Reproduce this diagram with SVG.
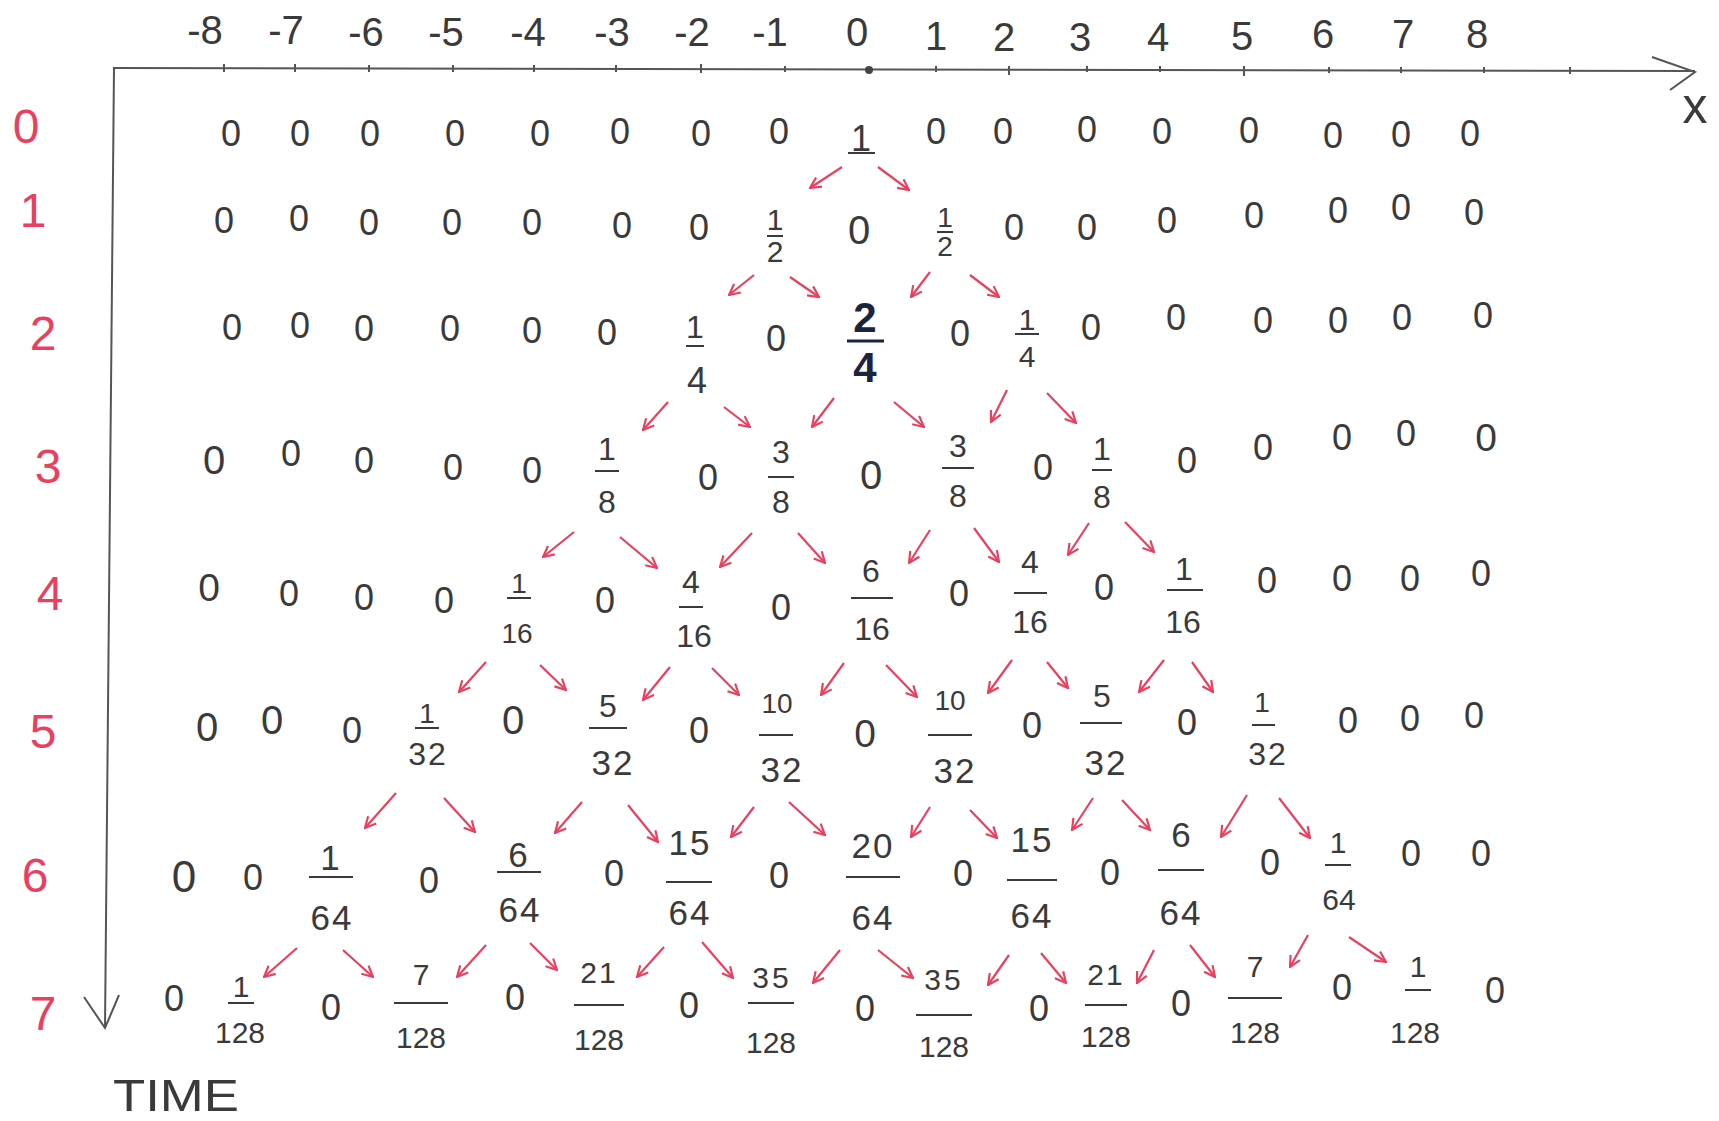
<svg xmlns="http://www.w3.org/2000/svg" width="1719" height="1121" viewBox="0 0 1719 1121">
<defs>
<style>
text{font-family:"Liberation Sans",Arial,sans-serif;text-anchor:middle;fill:#3a3a3a}
.z{font-size:36px}
.f{font-size:32px}
.f6{font-size:35px;letter-spacing:2px}
.f7{font-size:30px}
.bar{stroke:#3a3a3a;stroke-width:2}
.lab{font-size:48px;fill:#e8415f}
.ax{font-size:40px}
.axis{stroke:#555;stroke-width:2;fill:none}
.tick{stroke:#555;stroke-width:2}
.arr{stroke:#e8415f;stroke-width:2.2;fill:none;marker-end:url(#ah)}
.dk{fill:#1c2340;font-weight:bold;font-size:42px}
</style>
<marker id="ah" viewBox="0 0 12 12" refX="11" refY="6" markerWidth="13" markerHeight="13" markerUnits="userSpaceOnUse" orient="auto">
<path d="M1,1 L11,6 L1,11" fill="none" stroke="#e8415f" stroke-width="2"/>
</marker>
</defs>
<rect width="1719" height="1121" fill="#ffffff"/>

<g id="axes">
<path class="axis" d="M113,68 L1695,71"/>
<path class="axis" d="M1652,57 L1695,72 L1670,90"/>
<path class="axis" d="M114,68 L105,1028"/>
<path class="axis" d="M84,997 L105,1028 L119,995"/>
<g>
<line class="tick" x1="224" y1="64" x2="224" y2="72"/><line class="tick" x1="295" y1="64" x2="295" y2="72"/><line class="tick" x1="369" y1="65" x2="369" y2="72"/><line class="tick" x1="453" y1="65" x2="453" y2="72"/><line class="tick" x1="534" y1="65" x2="534" y2="72"/><line class="tick" x1="616" y1="65" x2="616" y2="72"/><line class="tick" x1="701" y1="64" x2="701" y2="73"/><line class="tick" x1="785" y1="66" x2="785" y2="72"/><circle cx="869" cy="70" r="4" fill="#444"/><line class="tick" x1="936" y1="66" x2="936" y2="72"/><line class="tick" x1="1009" y1="66" x2="1009" y2="75"/><line class="tick" x1="1087" y1="66" x2="1087" y2="72"/><line class="tick" x1="1160" y1="66" x2="1160" y2="72"/><line class="tick" x1="1244" y1="66" x2="1244" y2="76"/><line class="tick" x1="1329" y1="67" x2="1329" y2="73"/><line class="tick" x1="1401" y1="67" x2="1401" y2="73"/><line class="tick" x1="1484" y1="67" x2="1484" y2="73"/><line class="tick" x1="1570" y1="67" x2="1570" y2="74"/>
</g>
<text class="ax" x="205" y="44">-8</text><text class="ax" x="286" y="44">-7</text><text class="ax" x="366" y="46">-6</text><text class="ax" x="446" y="46">-5</text><text class="ax" x="528" y="46">-4</text><text class="ax" x="612" y="46">-3</text><text class="ax" x="692" y="46">-2</text><text class="ax" x="770" y="46">-1</text><text class="ax" x="857" y="46">0</text><text class="ax" x="936" y="50">1</text><text class="ax" x="1004" y="51">2</text><text class="ax" x="1080" y="51">3</text><text class="ax" x="1158" y="51">4</text><text class="ax" x="1242" y="50">5</text><text class="ax" x="1323" y="48">6</text><text class="ax" x="1403" y="48">7</text><text class="ax" x="1477" y="48">8</text>
<text x="1695" y="123" style="font-size:50px">x</text>
<text x="176" y="1111" style="font-size:44px" textLength="126" lengthAdjust="spacingAndGlyphs">TIME</text>
</g>

<g id="row-labels">
<text class="lab" x="26" y="143">0</text>
<text class="lab" x="33" y="227">1</text>
<text class="lab" x="43" y="350">2</text>
<text class="lab" x="48" y="483">3</text>
<text class="lab" x="50" y="610">4</text>
<text class="lab" x="43" y="748">5</text>
<text class="lab" x="35" y="892">6</text>
<text class="lab" x="43" y="1030">7</text>
</g>

<g id="row0">
<g id="r0_m8"><text class="z" x="231" y="146">0</text></g>
<g id="r0_m7"><text class="z" x="300" y="146">0</text></g>
<g id="r0_m6"><text class="z" x="370" y="146">0</text></g>
<g id="r0_m5"><text class="z" x="455" y="146">0</text></g>
<g id="r0_m4"><text class="z" x="540" y="146">0</text></g>
<g id="r0_m3"><text class="z" x="620" y="144">0</text></g>
<g id="r0_m2"><text class="z" x="701" y="146">0</text></g>
<g id="r0_m1"><text class="z" x="779" y="144">0</text></g>
<g id="r0_0"><text x="861" y="151" style="font-size:36px">1</text><line class="bar" x1="848" y1="153" x2="875" y2="153"/></g>
<g id="r0_p1"><text class="z" x="936" y="144">0</text></g>
<g id="r0_p2"><text class="z" x="1003" y="144">0</text></g>
<g id="r0_p3"><text class="z" x="1087" y="142">0</text></g>
<g id="r0_p4"><text class="z" x="1162" y="144">0</text></g>
<g id="r0_p5"><text class="z" x="1249" y="143">0</text></g>
<g id="r0_p6"><text class="z" x="1333" y="148">0</text></g>
<g id="r0_p7"><text class="z" x="1401" y="147">0</text></g>
<g id="r0_p8"><text class="z" x="1470" y="146">0</text></g>
</g>

<g id="row1">
<g id="r1_m8"><text class="z" x="224" y="233">0</text></g>
<g id="r1_m7"><text class="z" x="299" y="231">0</text></g>
<g id="r1_m6"><text class="z" x="369" y="235">0</text></g>
<g id="r1_m5"><text class="z" x="452" y="235">0</text></g>
<g id="r1_m4"><text class="z" x="532" y="235">0</text></g>
<g id="r1_m3"><text class="z" x="622" y="238">0</text></g>
<g id="r1_m2"><text class="z" x="699" y="240">0</text></g>
<g id="r1_m1"><text class="f" x="775" y="230" style="font-size:30px">1</text><line class="bar" x1="767" y1="236" x2="783" y2="236"/><text class="f" x="775" y="262" style="font-size:30px">2</text></g>
<g id="r1_0"><text class="z" x="859" y="244" style="font-size:40px">0</text></g>
<g id="r1_p1"><text class="f" x="945" y="227" style="font-size:28px">1</text><line class="bar" x1="937" y1="232" x2="953" y2="232"/><text class="f" x="945" y="256" style="font-size:28px">2</text></g>
<g id="r1_p2"><text class="z" x="1014" y="240">0</text></g>
<g id="r1_p3"><text class="z" x="1087" y="240">0</text></g>
<g id="r1_p4"><text class="z" x="1167" y="233">0</text></g>
<g id="r1_p5"><text class="z" x="1254" y="228">0</text></g>
<g id="r1_p6"><text class="z" x="1338" y="223">0</text></g>
<g id="r1_p7"><text class="z" x="1401" y="220">0</text></g>
<g id="r1_p8"><text class="z" x="1474" y="225">0</text></g>
</g>

<g id="row2">
<g id="r2_m8"><text class="z" x="232" y="340">0</text></g>
<g id="r2_m7"><text class="z" x="300" y="338">0</text></g>
<g id="r2_m6"><text class="z" x="364" y="341">0</text></g>
<g id="r2_m5"><text class="z" x="450" y="341">0</text></g>
<g id="r2_m4"><text class="z" x="532" y="343">0</text></g>
<g id="r2_m3"><text class="z" x="607" y="345">0</text></g>
<g id="r2_m2"><text class="f" x="695" y="338" style="font-size:32px">1</text><line class="bar" x1="686" y1="346" x2="704" y2="346"/><text class="f" x="697" y="393" style="font-size:36px">4</text></g>
<g id="r2_m1"><text class="z" x="776" y="351">0</text></g>
<g id="r2_0"><text class="dk" x="865" y="332">2</text><line class="bar" x1="847" y1="341" x2="884" y2="341" style="stroke:#1c2340;stroke-width:3"/><text class="dk" x="865" y="382">4</text></g>
<g id="r2_p1"><text class="z" x="960" y="346">0</text></g>
<g id="r2_p2"><text class="f" x="1027" y="330" style="font-size:30px">1</text><line class="bar" x1="1015" y1="334" x2="1039" y2="334"/><text class="f" x="1027" y="367" style="font-size:30px">4</text></g>
<g id="r2_p3"><text class="z" x="1091" y="340">0</text></g>
<g id="r2_p4"><text class="z" x="1176" y="330">0</text></g>
<g id="r2_p5"><text class="z" x="1263" y="333">0</text></g>
<g id="r2_p6"><text class="z" x="1338" y="333">0</text></g>
<g id="r2_p7"><text class="z" x="1402" y="330">0</text></g>
<g id="r2_p8"><text class="z" x="1483" y="328">0</text></g>
</g>

<g id="row3">
<g id="r3_m8"><text class="z" x="214" y="474" style="font-size:40px">0</text></g>
<g id="r3_m7"><text class="z" x="291" y="466">0</text></g>
<g id="r3_m6"><text class="z" x="364" y="473">0</text></g>
<g id="r3_m5"><text class="z" x="453" y="480">0</text></g>
<g id="r3_m4"><text class="z" x="532" y="483">0</text></g>
<g id="r3_m3"><text class="f" x="607" y="460">1</text><line class="bar" x1="595" y1="471" x2="619" y2="471"/><text class="f" x="607" y="513">8</text></g>
<g id="r3_m2"><text class="z" x="708" y="490">0</text></g>
<g id="r3_m1"><text class="f" x="781" y="463">3</text><line class="bar" x1="768" y1="477" x2="794" y2="477"/><text class="f" x="781" y="513">8</text></g>
<g id="r3_0"><text class="z" x="871" y="489" style="font-size:40px">0</text></g>
<g id="r3_p1"><text class="f" x="958" y="457">3</text><line class="bar" x1="942" y1="468" x2="974" y2="468"/><text class="f" x="958" y="507">8</text></g>
<g id="r3_p2"><text class="z" x="1043" y="480">0</text></g>
<g id="r3_p3"><text class="f" x="1102" y="460">1</text><line class="bar" x1="1092" y1="470" x2="1112" y2="470"/><text class="f" x="1102" y="508">8</text></g>
<g id="r3_p4"><text class="z" x="1187" y="473">0</text></g>
<g id="r3_p5"><text class="z" x="1263" y="460">0</text></g>
<g id="r3_p6"><text class="z" x="1342" y="450">0</text></g>
<g id="r3_p7"><text class="z" x="1406" y="446">0</text></g>
<g id="r3_p8"><text class="z" x="1486" y="451" style="font-size:39px">0</text></g>
</g>

<g id="row4">
<g id="r4_m8"><text class="z" x="209" y="601" style="font-size:39px">0</text></g>
<g id="r4_m7"><text class="z" x="289" y="606">0</text></g>
<g id="r4_m6"><text class="z" x="364" y="610">0</text></g>
<g id="r4_m5"><text class="z" x="444" y="613">0</text></g>
<g id="r4_m4"><text class="f" x="519" y="593" style="font-size:28px">1</text><line class="bar" x1="507" y1="598" x2="531" y2="598"/><text class="f" x="517" y="643" style="font-size:28px">16</text></g>
<g id="r4_m3"><text class="z" x="605" y="613">0</text></g>
<g id="r4_m2"><text class="f" x="691" y="593">4</text><line class="bar" x1="679" y1="607" x2="703" y2="607"/><text class="f" x="694" y="647">16</text></g>
<g id="r4_m1"><text class="z" x="781" y="620">0</text></g>
<g id="r4_0"><text class="f" x="871" y="582">6</text><line class="bar" x1="851" y1="598" x2="893" y2="598"/><text class="f" x="872" y="640">16</text></g>
<g id="r4_p1"><text class="z" x="959" y="606">0</text></g>
<g id="r4_p2"><text class="f" x="1030" y="573">4</text><line class="bar" x1="1014" y1="593" x2="1047" y2="593"/><text class="f" x="1030" y="633">16</text></g>
<g id="r4_p3"><text class="z" x="1104" y="600">0</text></g>
<g id="r4_p4"><text class="f" x="1184" y="580">1</text><line class="bar" x1="1167" y1="590" x2="1203" y2="590"/><text class="f" x="1183" y="633">16</text></g>
<g id="r4_p5"><text class="z" x="1267" y="593">0</text></g>
<g id="r4_p6"><text class="z" x="1342" y="591">0</text></g>
<g id="r4_p7"><text class="z" x="1410" y="591">0</text></g>
<g id="r4_p8"><text class="z" x="1481" y="586">0</text></g>
</g>

<g id="row5">
<g id="r5_m8"><text class="z" x="207" y="741" style="font-size:40px">0</text></g>
<g id="r5_m7"><text class="z" x="272" y="734" style="font-size:40px">0</text></g>
<g id="r5_m6"><text class="z" x="352" y="743">0</text></g>
<g id="r5_m5"><text class="f" x="427" y="723" style="font-size:28px">1</text><line class="bar" x1="415" y1="728" x2="439" y2="728"/><text class="f6" x="428" y="765" style="font-size:32px">32</text></g>
<g id="r5_m4"><text class="z" x="513" y="734" style="font-size:40px">0</text></g>
<g id="r5_m3"><text class="f" x="608" y="717">5</text><line class="bar" x1="589" y1="728" x2="627" y2="728"/><text class="f6" x="613" y="775">32</text></g>
<g id="r5_m2"><text class="z" x="699" y="743">0</text></g>
<g id="r5_m1"><text class="f" x="777" y="713" style="font-size:28px">10</text><line class="bar" x1="759" y1="735" x2="793" y2="735"/><text class="f6" x="782" y="782">32</text></g>
<g id="r5_0"><text class="z" x="865" y="747" style="font-size:39px">0</text></g>
<g id="r5_p1"><text class="f" x="950" y="710" style="font-size:28px">10</text><line class="bar" x1="928" y1="735" x2="972" y2="735"/><text class="f6" x="955" y="783">32</text></g>
<g id="r5_p2"><text class="z" x="1032" y="738">0</text></g>
<g id="r5_p3"><text class="f" x="1102" y="707">5</text><line class="bar" x1="1080" y1="723" x2="1122" y2="723"/><text class="f6" x="1106" y="775">32</text></g>
<g id="r5_p4"><text class="z" x="1187" y="735">0</text></g>
<g id="r5_p5"><text class="f" x="1262" y="712" style="font-size:28px">1</text><line class="bar" x1="1252" y1="725" x2="1275" y2="725"/><text class="f6" x="1268" y="765" style="font-size:32px">32</text></g>
<g id="r5_p6"><text class="z" x="1348" y="733">0</text></g>
<g id="r5_p7"><text class="z" x="1410" y="731">0</text></g>
<g id="r5_p8"><text class="z" x="1474" y="728">0</text></g>
</g>

<g id="row6">
<g id="r6_m8"><text class="z" x="184" y="892" style="font-size:44px">0</text></g>
<g id="r6_m7"><text class="z" x="253" y="890">0</text></g>
<g id="r6_m6"><text class="f6" x="331" y="870">1</text><line class="bar" x1="309" y1="877" x2="353" y2="877"/><text class="f6" x="332" y="930">64</text></g>
<g id="r6_m5"><text class="z" x="429" y="893">0</text></g>
<g id="r6_m4"><text class="f6" x="519" y="867">6</text><line class="bar" x1="497" y1="872" x2="541" y2="872"/><text class="f6" x="520" y="922">64</text></g>
<g id="r6_m3"><text class="z" x="614" y="886">0</text></g>
<g id="r6_m2"><text class="f6" x="690" y="855">15</text><line class="bar" x1="666" y1="882" x2="712" y2="882"/><text class="f6" x="690" y="925">64</text></g>
<g id="r6_m1"><text class="z" x="779" y="888">0</text></g>
<g id="r6_0"><text class="f6" x="873" y="858">20</text><line class="bar" x1="846" y1="877" x2="900" y2="877"/><text class="f6" x="873" y="930">64</text></g>
<g id="r6_p1"><text class="z" x="963" y="886">0</text></g>
<g id="r6_p2"><text class="f6" x="1032" y="852">15</text><line class="bar" x1="1007" y1="880" x2="1057" y2="880"/><text class="f6" x="1032" y="928">64</text></g>
<g id="r6_p3"><text class="z" x="1110" y="885">0</text></g>
<g id="r6_p4"><text class="f6" x="1182" y="847">6</text><line class="bar" x1="1158" y1="870" x2="1204" y2="870"/><text class="f6" x="1181" y="925">64</text></g>
<g id="r6_p5"><text class="z" x="1270" y="875">0</text></g>
<g id="r6_p6"><text class="f" x="1338" y="853" style="font-size:30px">1</text><line class="bar" x1="1325" y1="865" x2="1351" y2="865"/><text class="f" x="1339" y="910" style="font-size:30px">64</text></g>
<g id="r6_p7"><text class="z" x="1411" y="866">0</text></g>
<g id="r6_p8"><text class="z" x="1481" y="866">0</text></g>
</g>

<g id="row7">
<g id="r7_m8"><text class="z" x="174" y="1011">0</text></g>
<g id="r7_m7"><text class="f7" x="241" y="997">1</text><line class="bar" x1="228" y1="1003" x2="254" y2="1003"/><text class="f7" x="240" y="1043">128</text></g>
<g id="r7_m6"><text class="z" x="331" y="1020">0</text></g>
<g id="r7_m5"><text class="f7" x="421" y="985">7</text><line class="bar" x1="394" y1="1003" x2="448" y2="1003"/><text class="f7" x="421" y="1048">128</text></g>
<g id="r7_m4"><text class="z" x="515" y="1010">0</text></g>
<g id="r7_m3"><text class="f7" x="599" y="983" style="letter-spacing:2px">21</text><line class="bar" x1="574" y1="1005" x2="624" y2="1005"/><text class="f7" x="599" y="1050">128</text></g>
<g id="r7_m2"><text class="z" x="689" y="1018">0</text></g>
<g id="r7_m1"><text class="f7" x="772" y="988" style="letter-spacing:3px">35</text><line class="bar" x1="748" y1="1003" x2="794" y2="1003"/><text class="f7" x="771" y="1053">128</text></g>
<g id="r7_0"><text class="z" x="865" y="1021">0</text></g>
<g id="r7_p1"><text class="f7" x="944" y="990" style="letter-spacing:3px">35</text><line class="bar" x1="916" y1="1015" x2="972" y2="1015"/><text class="f7" x="944" y="1057">128</text></g>
<g id="r7_p2"><text class="z" x="1039" y="1021">0</text></g>
<g id="r7_p3"><text class="f7" x="1106" y="985" style="letter-spacing:2px">21</text><line class="bar" x1="1085" y1="1005" x2="1127" y2="1005"/><text class="f7" x="1106" y="1047">128</text></g>
<g id="r7_p4"><text class="z" x="1181" y="1016">0</text></g>
<g id="r7_p5"><text class="f7" x="1255" y="977">7</text><line class="bar" x1="1228" y1="998" x2="1282" y2="998"/><text class="f7" x="1255" y="1043">128</text></g>
<g id="r7_p6"><text class="z" x="1342" y="1000">0</text></g>
<g id="r7_p7"><text class="f7" x="1418" y="977">1</text><line class="bar" x1="1405" y1="990" x2="1431" y2="990"/><text class="f7" x="1415" y="1043">128</text></g>
<g id="r7_p8"><text class="z" x="1495" y="1003">0</text></g>
</g>

<g id="connectors">
<line class="arr" x1="842" y1="167" x2="810" y2="188"/>
<line class="arr" x1="878" y1="167" x2="909" y2="190"/>
<line class="arr" x1="754" y1="275" x2="729" y2="295"/>
<line class="arr" x1="790" y1="277" x2="819" y2="297"/>
<line class="arr" x1="930" y1="272" x2="911" y2="297"/>
<line class="arr" x1="970" y1="275" x2="999" y2="297"/>
<line class="arr" x1="668" y1="402" x2="643" y2="430"/>
<line class="arr" x1="724" y1="407" x2="750" y2="427"/>
<line class="arr" x1="834" y1="398" x2="812" y2="427"/>
<line class="arr" x1="894" y1="402" x2="924" y2="427"/>
<line class="arr" x1="1007" y1="390" x2="991" y2="422"/>
<line class="arr" x1="1047" y1="393" x2="1076" y2="423"/>
<line class="arr" x1="574" y1="532" x2="543" y2="557"/>
<line class="arr" x1="620" y1="537" x2="657" y2="568"/>
<line class="arr" x1="752" y1="533" x2="720" y2="567"/>
<line class="arr" x1="798" y1="533" x2="825" y2="563"/>
<line class="arr" x1="930" y1="530" x2="909" y2="563"/>
<line class="arr" x1="974" y1="528" x2="999" y2="562"/>
<line class="arr" x1="1089" y1="523" x2="1068" y2="555"/>
<line class="arr" x1="1125" y1="522" x2="1154" y2="552"/>
<line class="arr" x1="486" y1="662" x2="459" y2="692"/>
<line class="arr" x1="540" y1="665" x2="566" y2="690"/>
<line class="arr" x1="670" y1="667" x2="643" y2="700"/>
<line class="arr" x1="712" y1="668" x2="739" y2="695"/>
<line class="arr" x1="844" y1="663" x2="821" y2="695"/>
<line class="arr" x1="886" y1="665" x2="917" y2="697"/>
<line class="arr" x1="1012" y1="660" x2="988" y2="693"/>
<line class="arr" x1="1047" y1="662" x2="1068" y2="688"/>
<line class="arr" x1="1164" y1="660" x2="1139" y2="692"/>
<line class="arr" x1="1192" y1="662" x2="1213" y2="692"/>
<line class="arr" x1="396" y1="793" x2="365" y2="828"/>
<line class="arr" x1="444" y1="798" x2="475" y2="832"/>
<line class="arr" x1="582" y1="802" x2="555" y2="833"/>
<line class="arr" x1="628" y1="805" x2="658" y2="842"/>
<line class="arr" x1="754" y1="807" x2="731" y2="837"/>
<line class="arr" x1="789" y1="802" x2="825" y2="835"/>
<line class="arr" x1="930" y1="807" x2="911" y2="837"/>
<line class="arr" x1="970" y1="810" x2="997" y2="838"/>
<line class="arr" x1="1093" y1="798" x2="1072" y2="830"/>
<line class="arr" x1="1122" y1="800" x2="1150" y2="830"/>
<line class="arr" x1="1247" y1="795" x2="1221" y2="837"/>
<line class="arr" x1="1279" y1="798" x2="1310" y2="838"/>
<line class="arr" x1="297" y1="948" x2="264" y2="977"/>
<line class="arr" x1="343" y1="950" x2="373" y2="977"/>
<line class="arr" x1="486" y1="945" x2="457" y2="977"/>
<line class="arr" x1="530" y1="943" x2="557" y2="970"/>
<line class="arr" x1="664" y1="947" x2="637" y2="977"/>
<line class="arr" x1="702" y1="942" x2="733" y2="978"/>
<line class="arr" x1="840" y1="950" x2="813" y2="983"/>
<line class="arr" x1="878" y1="950" x2="913" y2="978"/>
<line class="arr" x1="1009" y1="955" x2="988" y2="985"/>
<line class="arr" x1="1041" y1="953" x2="1066" y2="983"/>
<line class="arr" x1="1154" y1="950" x2="1137" y2="983"/>
<line class="arr" x1="1190" y1="945" x2="1215" y2="977"/>
<line class="arr" x1="1308" y1="935" x2="1290" y2="967"/>
<line class="arr" x1="1349" y1="937" x2="1386" y2="962"/>
</g>
</svg>
